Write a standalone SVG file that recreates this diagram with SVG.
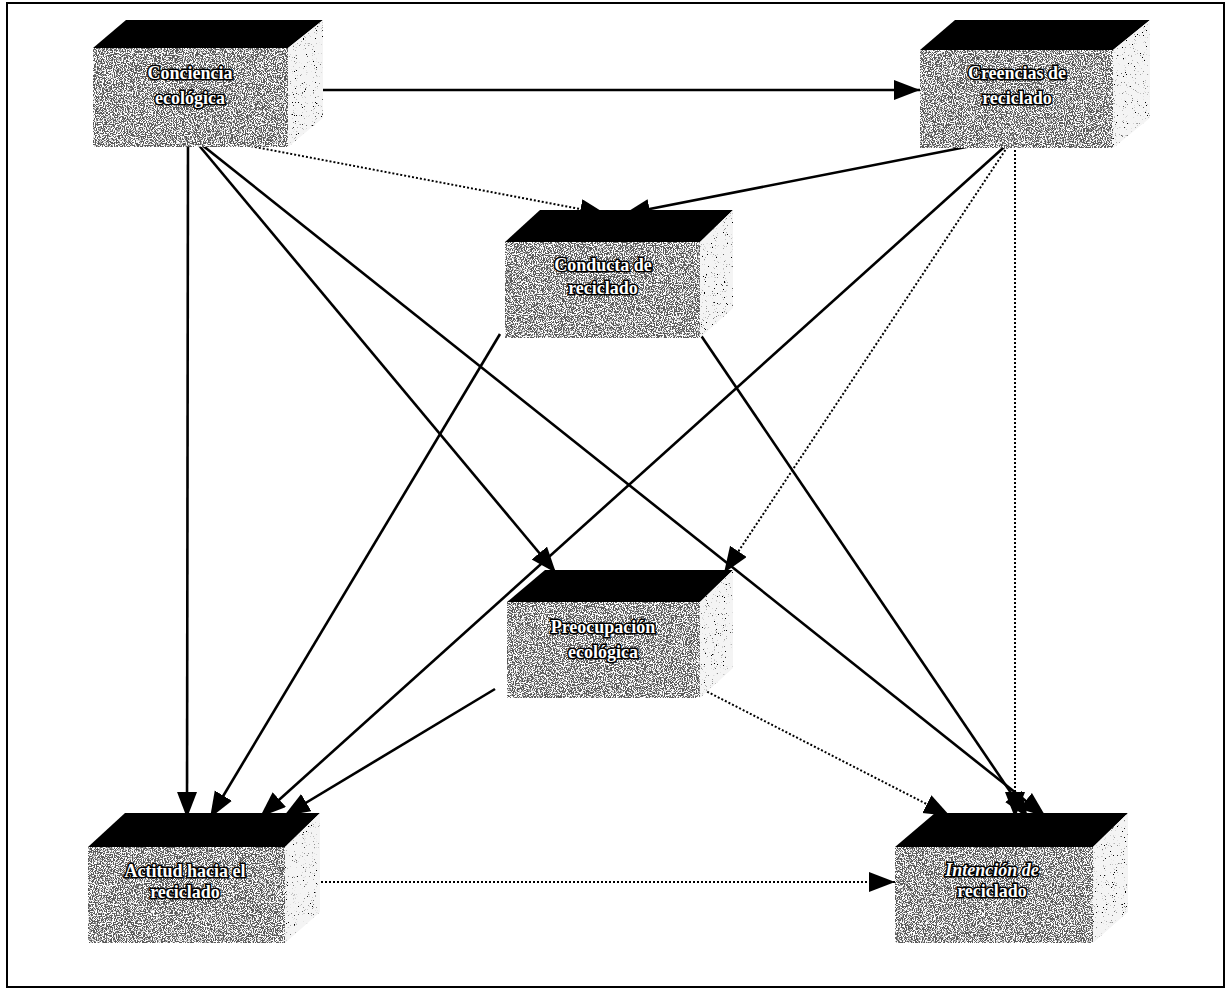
<svg xmlns="http://www.w3.org/2000/svg" width="1227" height="989" viewBox="0 0 1227 989">
<style>
.front{fill:#5a5a5a;filter:url(#grainW);}
.side{fill:#f4f4f4;filter:url(#grainB);}
.top{fill:#000;}
.lbl{font-family:"Liberation Serif","Times New Roman",serif;font-weight:bold;font-size:18px;fill:#fff;stroke:#000;stroke-width:3px;paint-order:stroke;text-anchor:middle;}
.solid{stroke:#000;stroke-width:2.6;fill:none;marker-end:url(#ah);}
.dot{stroke:#000;stroke-width:2;stroke-dasharray:2 2;fill:none;marker-end:url(#ah);}
</style>
<defs>
<filter id="grainW" x="0" y="0" width="1" height="1">
<feTurbulence type="fractalNoise" baseFrequency="0.9" numOctaves="2" seed="4" result="n"/>
<feColorMatrix in="n" type="matrix" values="0 0 0 0 1  0 0 0 0 1  0 0 0 0 1  9 0 0 0 -4.2" result="d"/>
<feComposite in="d" in2="SourceGraphic" operator="in" result="w"/>
<feMerge><feMergeNode in="SourceGraphic"/><feMergeNode in="w"/></feMerge>
</filter>
<filter id="grainB" x="0" y="0" width="1" height="1">
<feTurbulence type="fractalNoise" baseFrequency="0.9" numOctaves="2" seed="7" result="n"/>
<feColorMatrix in="n" type="matrix" values="0 0 0 0 0  0 0 0 0 0  0 0 0 0 0  10 0 0 0 -6.6" result="d"/>
<feComposite in="d" in2="SourceGraphic" operator="in" result="w"/>
<feMerge><feMergeNode in="SourceGraphic"/><feMergeNode in="w"/></feMerge>
</filter>
<marker id="ah" markerUnits="userSpaceOnUse" markerWidth="28" markerHeight="22" refX="26" refY="10" orient="auto">
<path d="M0,0 L26,10 L0,20 z" fill="#000"/>
</marker>
</defs>
<rect x="7" y="3" width="1217" height="984" fill="#fff" stroke="#000" stroke-width="2"/>

<g id="connectors">
<line class="solid" x1="313" y1="90" x2="920" y2="90"/>
<line class="dot" x1="192" y1="135" x2="606" y2="214"/>
<line class="solid" x1="1012" y1="138" x2="624" y2="214"/>
<line class="solid" x1="188" y1="137" x2="187" y2="818"/>
<line class="solid" x1="192" y1="137" x2="556" y2="573"/>
<line class="solid" x1="192" y1="137" x2="1046" y2="817"/>
<line class="solid" x1="1012" y1="140" x2="260" y2="817"/>
<line class="dot" x1="1012" y1="140" x2="724" y2="573"/>
<line class="dot" x1="1015" y1="142" x2="1015" y2="818"/>
<line class="solid" x1="500" y1="334" x2="210" y2="818"/>
<line class="solid" x1="700" y1="334" x2="1028" y2="818"/>
<line class="solid" x1="495" y1="689" x2="284" y2="816"/>
<line class="dot" x1="700" y1="688" x2="950" y2="816"/>
<line class="dot" x1="313" y1="882" x2="895" y2="882"/>
</g>

<g id="n-conciencia">
<polygon class="top" points="93,48 126,20 323,20 288,48"/>
<polygon class="side" points="288,48 323,20 323,118 288,147"/>
<rect class="front" x="93" y="48" width="195" height="99"/>
<text class="lbl" x="190" y="79">Conciencia</text>
<text class="lbl" x="190" y="104">ecológica</text>
</g>
<g id="n-creencias">
<polygon class="top" points="920,50 955,20 1150,20 1113,50"/>
<polygon class="side" points="1113,50 1150,20 1150,118 1113,148"/>
<rect class="front" x="920" y="50" width="193" height="98"/>
<text class="lbl" x="1017" y="79">Creencias de</text>
<text class="lbl" x="1017" y="104">reciclado</text>
</g>
<g id="n-conducta">
<polygon class="top" points="505,242 540,210 733,210 700,242"/>
<polygon class="side" points="700,242 733,210 733,308 700,338"/>
<rect class="front" x="505" y="242" width="195" height="96"/>
<text class="lbl" x="603" y="271">Conducta de</text>
<text class="lbl" x="603" y="294">reciclado</text>
</g>
<g id="n-preocupacion">
<polygon class="top" points="507,602 545,570 733,570 700,602"/>
<polygon class="side" points="700,602 733,570 733,668 700,698"/>
<rect class="front" x="507" y="602" width="193" height="96"/>
<text class="lbl" x="603" y="633">Preocupación</text>
<text class="lbl" x="603" y="658">ecológica</text>
</g>
<g id="n-actitud">
<polygon class="top" points="88,847 125,813 320,813 285,847"/>
<polygon class="side" points="285,847 320,813 320,912 285,943"/>
<rect class="front" x="88" y="847" width="197" height="96"/>
<text class="lbl" x="185" y="877">Actitud hacia el</text>
<text class="lbl" x="185" y="898">reciclado</text>
</g>
<g id="n-intencion">
<polygon class="top" points="895,847 935,813 1128,813 1093,847"/>
<polygon class="side" points="1093,847 1128,813 1128,912 1093,943"/>
<rect class="front" x="895" y="847" width="198" height="96"/>
<text class="lbl" x="992" y="876" font-style="italic">Intención de</text>
<text class="lbl" x="992" y="897">reciclado</text>
</g>
</svg>
